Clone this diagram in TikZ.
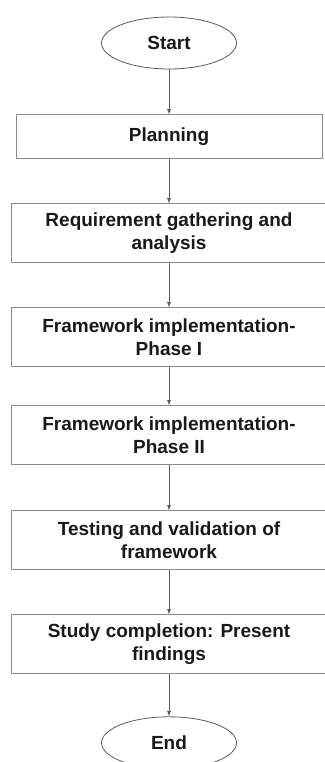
\documentclass[tikz,border=0pt]{standalone}
\usepackage{fontspec}
\setmainfont{Liberation Sans}
\usepackage{tikz}
\usetikzlibrary{shapes.geometric, arrows, positioning}
\usepackage{xcolor}
\definecolor{framegray}{RGB}{140, 140, 140}
\definecolor{linegray}{RGB}{90, 90, 90}
\definecolor{textdark}{RGB}{25, 25, 25}
\tikzstyle{terminal} = [ellipse, draw=linegray, line width=0.8pt, minimum width=135pt, minimum height=52pt, inner sep=0pt, font=\fontsize{19}{23}\selectfont\bfseries, text=textdark]
\tikzstyle{stagebox} = [rectangle, draw=framegray, line width=1pt, minimum width=316pt, minimum height=59pt, inner sep=0pt, align=center, font=\fontsize{19}{23}\selectfont\bfseries, text=textdark]
\tikzstyle{arrow} = [line width=0.8pt,->,>=latex,linegray]

\begin{document}
\begin{tikzpicture}[x=1pt, y=1pt, node distance=44pt]
\useasboundingbox (0,0) rectangle (324,-762);
% Flow of the study
\node[terminal] (start) at (169,-43) {Start};
\node[stagebox, minimum width=306pt, minimum height=44pt, below=45pt of start] (planning) {Planning};
\node[stagebox, below=of planning] (requirement) {Requirement gathering and\\analysis};
\node[stagebox, below=of requirement] (phaseone) {Framework implementation-\\Phase I};
\node[stagebox, below=38pt of phaseone] (phasetwo) {Framework implementation-\\Phase II};
\node[stagebox, below=45pt of phasetwo] (testing) {Testing and validation of\\framework};
\node[stagebox, below=of testing] (study) {Study completion: Present\\findings};
\node[terminal, below=42pt of study] (end) {End};

\draw[arrow] (start) -- (planning);
\draw[arrow] (planning) -- (requirement);
\draw[arrow] (requirement) -- (phaseone);
\draw[arrow] (phaseone) -- (phasetwo);
\draw[arrow] (phasetwo) -- (testing);
\draw[arrow] (testing) -- (study);
\draw[arrow] (study) -- (end);
\end{tikzpicture}
\end{document}
